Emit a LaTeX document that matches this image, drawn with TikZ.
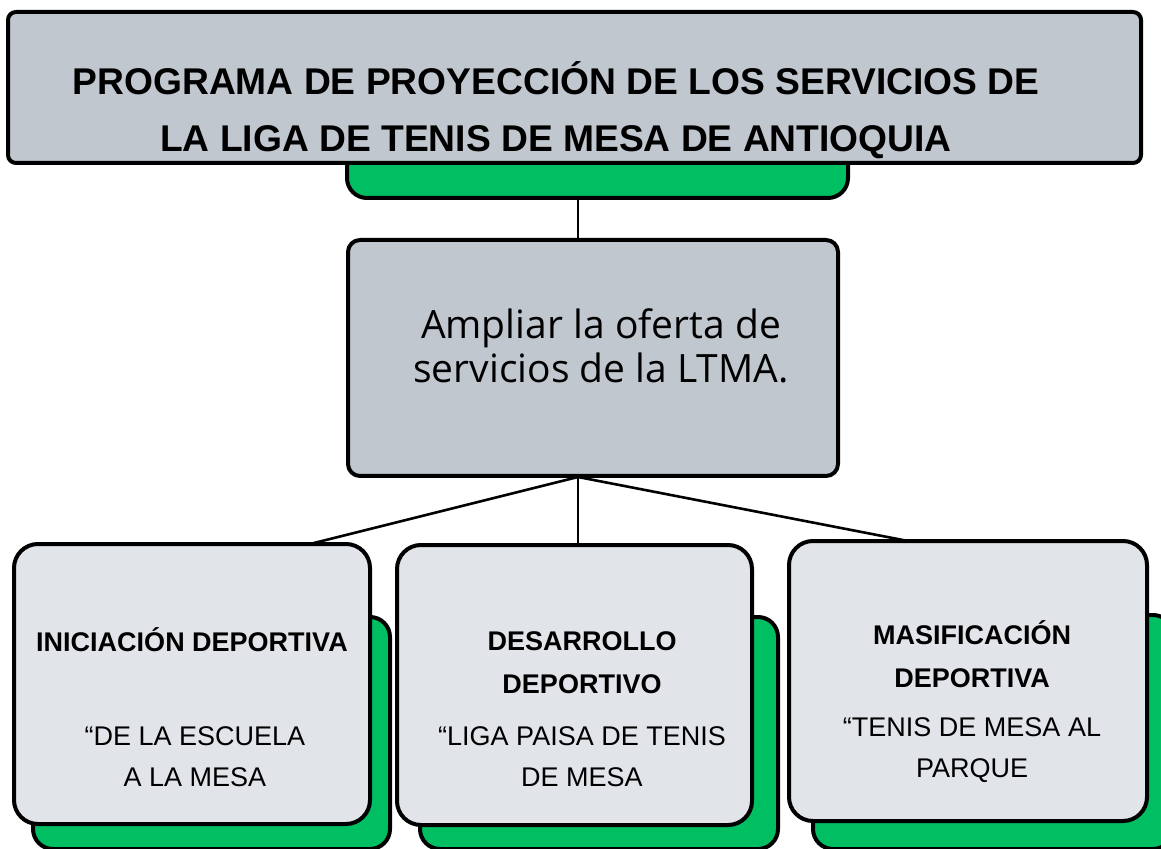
\documentclass[tikz,border=0pt]{standalone}
\usepackage{fontspec}
\setmainfont{Liberation Sans}
\newfontfamily\uifont{Open Sans}
\definecolor{boxgray}{HTML}{C1C7CF}
\definecolor{cardgray}{HTML}{E1E5EA}
\definecolor{ligagreen}{HTML}{00BF63}

\begin{document}
\begin{tikzpicture}
[x=0.5pt,y=-0.5pt,line join=round,%
  every node/.style={inner sep=0pt,outer sep=0pt,anchor=north west},
  panel/.style={rectangle,draw,line width=2pt},
  shade/.style={panel,fill=ligagreen,rounded corners=10pt},
  card/.style={panel,fill=cardgray,rounded corners=12pt,
    minimum width=178pt,minimum height=140pt},
  cardtitle/.style={anchor=center,align=center,font=\bfseries\fontsize{13.5}{21.5}\selectfont},
  cardtext/.style={anchor=center,align=center,font=\fontsize{13.5}{20.5}\selectfont},
  link/.style={line width=1.3pt}]
\useasboundingbox (0,0) rectangle (1161,849);
\clip (0,0) rectangle (1161,849);

% green shadows
\node[shade,minimum width=250.5pt,minimum height=39pt] (progshade) at (347,120) {};
\node[shade,minimum width=178.5pt,minimum height=116pt] (inishade) at (33,617) {};
\node[shade,minimum width=179pt,minimum height=116pt] (desshade) at (420,617) {};
\node[shade,minimum width=180pt,minimum height=117pt] (masshade) at (813,615) {};

% boxes
\node[panel,fill=boxgray,rounded corners=4pt,
  minimum width=566.5pt,minimum height=75.5pt] (prog) at (8,12) {};
\node[panel,fill=boxgray,rounded corners=6pt,
  minimum width=245pt,minimum height=118pt] (goal) at (348,240) {};
\node[card] (ini) at (14,544) {};
\node[card,minimum width=177.5pt] (des) at (397,545) {};
\node[card,minimum width=179pt] (mas) at (789,541) {};

% texts
\node[anchor=center,align=center,font=\bfseries\fontsize{18.6}{28.5}\selectfont]
  (progtext) at (556,110) {PROGRAMA DE PROYECCIÓN DE LOS SERVICIOS DE\\
  LA LIGA DE TENIS DE MESA DE ANTIOQUIA};
\node[anchor=center,align=center,font=\uifont\fontsize{19.5}{22}\selectfont]
  (goaltext) at (601,346) {Ampliar la oferta de\\servicios de la LTMA.};
\node[cardtitle] (initop) at (192,640) {INICIACIÓN DEPORTIVA};
\node[cardtext] (inisub) at (195,757) {“DE LA ESCUELA\\A LA MESA};
\node[cardtitle] (destop) at (582,663) {DESARROLLO\\DEPORTIVO};
\node[cardtext] (dessub) at (582,757) {“LIGA PAISA DE TENIS\\DE MESA};
\node[cardtitle] (mastop) at (972,654) {MASIFICACIÓN\\DEPORTIVA};
\node[cardtext] (massub) at (972,750) {“TENIS DE MESA AL\\PARQUE};

% connectors
\coordinate (hub) at (578,477);
\draw[link] (progshade.south -| hub) -- (goal.north -| hub);
\draw[link] (hub) -- ([xshift=59pt]ini.north);
\draw[link] (hub) -- (des.north -| hub);
\draw[link] (hub) -- ([xshift=-30pt]mas.north);
\end{tikzpicture}
\end{document}
